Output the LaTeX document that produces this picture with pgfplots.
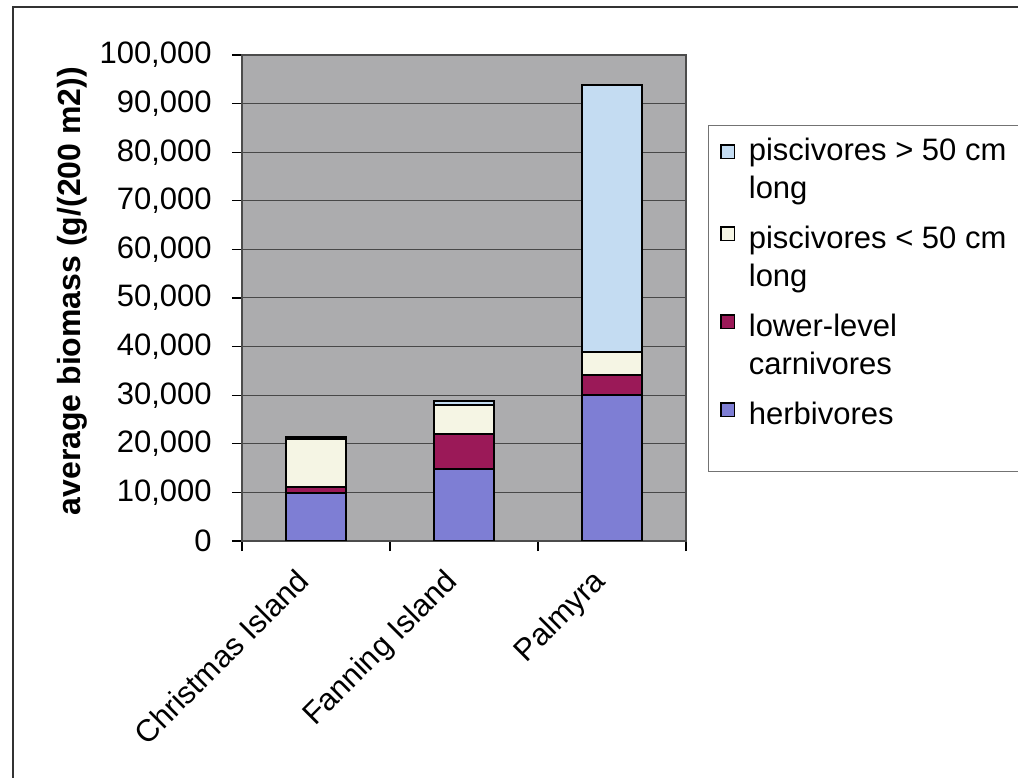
\documentclass[border=0pt]{standalone}
\usepackage{pgfplots}
\pgfplotsset{compat=1.18}
\usepackage{fontspec}
\setmainfont{Liberation Sans}

\definecolor{herb}{RGB}{126,126,212}
\definecolor{carn}{RGB}{155,25,88}
\definecolor{smallpisc}{RGB}{245,245,228}
\definecolor{bigpisc}{RGB}{196,220,242}
\definecolor{plotbg}{RGB}{172,172,174}
\definecolor{gridc}{RGB}{72,72,72}

\newcommand{\lblfont}{\fontsize{15.5}{18.75}\selectfont}
% struts that set the legend line pitch
\newcommand{\legline}{\rule{0pt}{17.5pt}}
\newcommand{\legfirst}{\rule{0pt}{23.5pt}}

\pgfplotsset{
  squarelegend/.style={
    legend image code/.code={\draw[##1, line width=0.6pt] (0pt,-6.85pt) rectangle (6.6pt,-0.25pt);}
  }
}

\begin{document}
\begin{tikzpicture}
\clip (0,0) rectangle (509pt,388.5pt);
\fill[white] (0,0) rectangle (509pt,388.5pt);
% page frame
\draw[line width=1pt, black!80] (6.3pt,-10pt) -- (6.3pt,384.8pt) -- (520pt,384.8pt);
\begin{axis}[
  at={(121pt,118pt)}, anchor=south west,
  scale only axis, width=222pt, height=243pt,
  ybar stacked, bar width=0.41,
  xmin=-0.5, xmax=2.5, ymin=0, ymax=100000,
  axis background/.style={fill=plotbg},
  axis line style={draw=black!70, line width=0.6pt},
  scaled y ticks=false,
  ytick={0,10000,20000,30000,40000,50000,60000,70000,80000,90000,100000},
  yticklabels={0,{10,000},{20,000},{30,000},{40,000},{50,000},{60,000},{70,000},{80,000},{90,000},{100,000}},
  ymajorgrids, major grid style={draw=gridc, line width=0.5pt},
  xtick pos=bottom, ytick pos=left,
  tick align=outside, major tick length=5pt,
  tick style={draw=black, line width=0.6pt},
  xtick={-0.5,0.5,1.5,2.5}, xticklabels={},
  extra x ticks={0,1,2},
  extra x tick labels={Christmas Island, Fanning Island, Palmyra},
  extra x tick style={major tick length=0pt, grid=none},
  xticklabel style={font=\lblfont, rotate=45, anchor=north east, inner sep=0pt, xshift=-16.5pt, yshift=-1.6pt},
  yticklabel style={font=\lblfont, anchor=east, inner sep=0pt, xshift=-10pt},
  ylabel={average biomass (g/(200 m2))},
  ylabel style={at={(axis description cs:-0.383,0.514)}, anchor=center, rotate=0, font=\fontsize{16}{19}\selectfont\bfseries},
  every axis plot/.append style={draw=black, line width=1pt},
  squarelegend,
  reverse legend,
  legend cell align=left,
  legend style={at={(axis description cs:1.0495,0.856)}, anchor=north west,
    draw=black!55, line width=0.5pt, fill=white, font=\lblfont,
    row sep=0pt, column sep=5pt, inner xsep=6pt, inner ysep=0pt,
    nodes={inner ysep=0pt}},
]
\addlegendimage{empty legend}
\addlegendentry{\rule{0pt}{20.5pt}}
\addplot[fill=herb] coordinates {(0,9900) (1,14750) (2,30000)};
\addlegendentry{\legfirst herbivores}
\addlegendimage{empty legend}
\addlegendentry{\legline carnivores}
\addplot[fill=carn] coordinates {(0,1200) (1,7200) (2,4100)};
\addlegendentry{\legfirst lower-level}
\addlegendimage{empty legend}
\addlegendentry{\legline long}
\addplot[fill=smallpisc] coordinates {(0,9900) (1,6050) (2,4800)};
\addlegendentry{\legfirst piscivores < 50 cm}
\addlegendimage{empty legend}
\addlegendentry{\legline long}
\addplot[fill=bigpisc] coordinates {(0,400) (1,800) (2,54900)};
\addlegendentry{\makebox[150pt][l]{\legline piscivores > 50 cm}}
\end{axis}
\end{tikzpicture}
\end{document}
